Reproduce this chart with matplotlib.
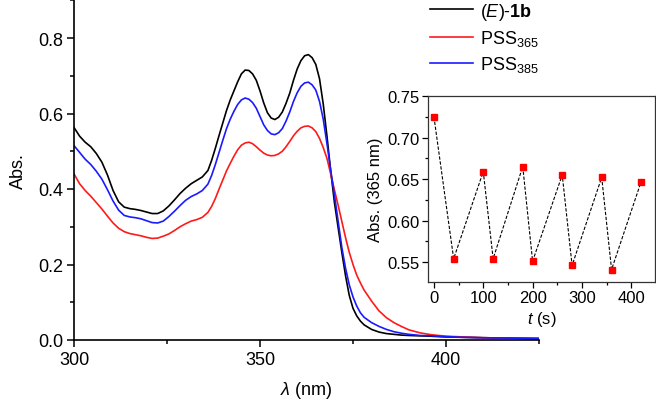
import matplotlib
matplotlib.use("Agg")
import matplotlib.pyplot as plt
from matplotlib.ticker import MultipleLocator

plt.rcParams['font.family'] = ['Liberation Sans', 'DejaVu Sans']
plt.rcParams['mathtext.fontset'] = 'custom'
plt.rcParams['mathtext.rm'] = 'Liberation Sans'
plt.rcParams['mathtext.it'] = 'Liberation Sans:italic'
plt.rcParams['mathtext.bf'] = 'Liberation Sans:bold'

# ---- data ----
wavelength = [300, 301.5, 303, 304.5, 306, 307.5, 309, 310.5, 312, 313.5, 315, 316.5,
              318, 319.5, 321, 322.5, 324, 325.5, 327, 328.5, 330, 331.5, 333, 334.5,
              336, 337, 338, 339, 340, 341, 342, 343, 344, 345, 346, 347, 348, 349,
              350, 351, 352, 353, 354, 355, 356, 357, 358, 359, 360, 361, 362, 363,
              364, 365, 366, 367, 368, 369, 370, 371, 372, 373, 374, 375, 376, 377, 378,
              380, 382, 384, 386, 388, 390, 393, 396, 400, 405, 410, 417, 425]

abs_E1b = [0.563, 0.540, 0.524, 0.512, 0.494, 0.471, 0.437, 0.396, 0.366, 0.352, 0.348, 0.346,
           0.343, 0.339, 0.335, 0.335, 0.342, 0.355, 0.371, 0.388, 0.402, 0.414, 0.423, 0.432,
           0.449, 0.476, 0.508, 0.542, 0.575, 0.608, 0.636, 0.660, 0.684, 0.705, 0.715, 0.714, 0.705, 0.688,
           0.660, 0.628, 0.602, 0.588, 0.584, 0.590, 0.604, 0.627, 0.654, 0.688, 0.718, 0.740, 0.753, 0.756,
           0.748, 0.730, 0.692, 0.625, 0.540, 0.448, 0.365, 0.298, 0.232, 0.170, 0.118, 0.084, 0.064, 0.050, 0.040,
           0.028, 0.021, 0.017, 0.015, 0.013, 0.012, 0.011, 0.010, 0.008, 0.007, 0.006, 0.005, 0.004]

abs_PSS365 = [0.440, 0.414, 0.396, 0.381, 0.364, 0.347, 0.328, 0.310, 0.296, 0.287, 0.282, 0.279,
              0.276, 0.272, 0.269, 0.270, 0.275, 0.281, 0.290, 0.300, 0.308, 0.315, 0.319, 0.325,
              0.338, 0.354, 0.375, 0.400, 0.424, 0.448, 0.468, 0.487, 0.504, 0.516, 0.522, 0.524, 0.520, 0.512,
              0.503, 0.495, 0.490, 0.488, 0.489, 0.493, 0.500, 0.512, 0.526, 0.541, 0.553, 0.562, 0.566, 0.567,
              0.562, 0.552, 0.534, 0.510, 0.481, 0.440, 0.398, 0.357, 0.314, 0.271, 0.232, 0.200, 0.172, 0.151, 0.132,
              0.103, 0.077, 0.059, 0.046, 0.036, 0.027, 0.019, 0.014, 0.010, 0.008, 0.006, 0.005, 0.004]

abs_PSS385 = [0.515, 0.497, 0.479, 0.465, 0.447, 0.426, 0.398, 0.368, 0.344, 0.330, 0.326, 0.324,
              0.321, 0.316, 0.311, 0.310, 0.315, 0.327, 0.341, 0.356, 0.370, 0.380, 0.387, 0.396,
              0.413, 0.436, 0.465, 0.497, 0.529, 0.560, 0.585, 0.606, 0.624, 0.636, 0.641, 0.638, 0.629, 0.614,
              0.592, 0.570, 0.555, 0.546, 0.544, 0.549, 0.560, 0.580, 0.604, 0.632, 0.655, 0.672, 0.681, 0.683,
              0.676, 0.662, 0.632, 0.585, 0.520, 0.450, 0.385, 0.315, 0.245, 0.190, 0.146, 0.114, 0.090, 0.072, 0.060,
              0.046, 0.036, 0.028, 0.022, 0.018, 0.015, 0.012, 0.011, 0.009, 0.007, 0.006, 0.005, 0.004]

series_labels = [r'($\mathit{E}$)-$\mathbf{1b}$', r'PSS$_{365}$', r'PSS$_{385}$']
series_colors = ['black', '#ff1a1a', '#1a1aff']

cycle_time = [0, 40, 100, 120, 180, 200, 260, 280, 340, 360, 420]
cycle_abs = [0.725, 0.554, 0.659, 0.554, 0.665, 0.551, 0.655, 0.546, 0.652, 0.541, 0.647]

# ---- figure ----
fig = plt.figure(figsize=(6.56, 4.06), dpi=100)
ax = fig.add_axes([74/656, 65/406, 465/656, 339.75/406])

for y, lab, col in zip([abs_E1b, abs_PSS365, abs_PSS385], series_labels, series_colors):
    ax.plot(wavelength, y, color=col, lw=1.2, label=lab, solid_joinstyle='round')

ax.set_xlim(300, 425)
ax.set_ylim(0, 0.9)
ax.xaxis.set_major_locator(MultipleLocator(50))
ax.xaxis.set_minor_locator(MultipleLocator(25))
ax.yaxis.set_major_locator(MultipleLocator(0.2))
ax.yaxis.set_minor_locator(MultipleLocator(0.1))
ax.yaxis.set_major_formatter(plt.FuncFormatter(lambda v, p: f'{v:.1f}'))
for s in ['top', 'right']:
    ax.spines[s].set_visible(False)
for s in ['left', 'bottom']:
    ax.spines[s].set_linewidth(1.2)
ax.tick_params(which='major', direction='out', length=5, width=1.1, labelsize=13, pad=3)
ax.tick_params(which='minor', direction='out', length=3, width=1.1)
ax.set_xlabel(r'$\mathit{λ}$ (nm)', fontsize=13, labelpad=8)
ax.set_ylabel('Abs.', fontsize=13, labelpad=8)

ax.legend(loc='upper left', bbox_to_anchor=(428/656, 1.0), bbox_transform=fig.transFigure,
          frameon=False, fontsize=13, handlelength=2.4, handletextpad=0.4,
          labelspacing=0.35, borderaxespad=0, borderpad=0.1)

# ---- inset ----
ins = fig.add_axes([428/656, 123/406, 227/656, 186/406])
ins.plot(cycle_time, cycle_abs, color='black', lw=0.8, ls=(0, (3, 1.5)),
         marker='s', markersize=5, markerfacecolor='#ff0000', markeredgecolor='#ff0000')
ins.set_xlim(-12, 448)
ins.set_ylim(0.526, 0.75)
ins.xaxis.set_major_locator(MultipleLocator(100))
ins.xaxis.set_minor_locator(MultipleLocator(50))
ins.yaxis.set_major_locator(MultipleLocator(0.05))
ins.yaxis.set_minor_locator(MultipleLocator(0.025))
ins.yaxis.set_major_formatter(plt.FuncFormatter(lambda v, p: f'{v:.2f}'))
for s in ins.spines.values():
    s.set_linewidth(0.9)
    s.set_color('#333333')
ins.tick_params(which='major', direction='out', length=4, width=0.9, labelsize=12, pad=2)
ins.tick_params(which='minor', direction='out', length=2.5, width=0.9)
ins.set_xlabel(r'$\mathit{t}$ (s)', fontsize=12, labelpad=3)
ins.set_ylabel('Abs. (365 nm)', fontsize=12, labelpad=3)

fig.savefig('out.png', dpi=100)
